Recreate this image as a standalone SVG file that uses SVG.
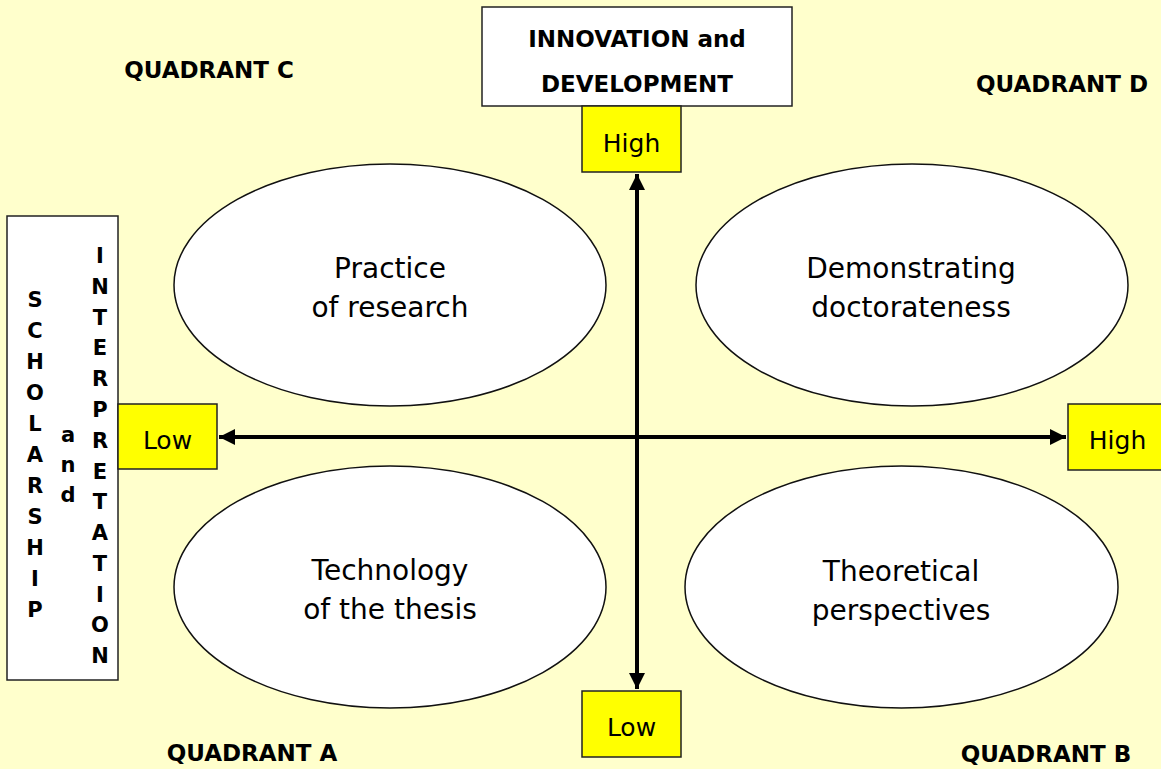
<svg xmlns="http://www.w3.org/2000/svg" width="1161" height="769" viewBox="0 0 1161 769">
<defs>
<style>
.bg{fill:#FFFFCC}
.wbox{fill:#FFFFFF;stroke:#222;stroke-width:1.5}
.ybox{fill:#FFFF00;stroke:#222;stroke-width:1.5}
.ell{fill:#FFFFFF;stroke:#111;stroke-width:1.5}
.t{font-family:"DejaVu Sans","Verdana",sans-serif;fill:#000;text-anchor:middle}
.big{font-size:28px}
.lbl{font-size:25px}
.bold{font-weight:bold;font-size:23px}
.vl{font-weight:bold;font-size:21px}
.axis{stroke:#000;stroke-width:4;fill:none}
</style>
<marker id="ah" viewBox="0 0 10 10" refX="10" refY="5" markerWidth="4" markerHeight="4" orient="auto-start-reverse" markerUnits="strokeWidth">
<path d="M0,0 L10,5 L0,10 z" fill="#000"/>
</marker>
</defs>
<rect class="bg" x="0" y="0" width="1161" height="769"/>

<g id="connectors">
<line class="axis" x1="637" y1="174" x2="637" y2="689" marker-start="url(#ah)" marker-end="url(#ah)"/>
<line class="axis" x1="219" y1="437" x2="1066" y2="437" marker-start="url(#ah)" marker-end="url(#ah)"/>
</g>

<g id="quadrant-labels">
<text class="t bold" x="209" y="78">QUADRANT C</text>
<text class="t bold" x="1062" y="92">QUADRANT D</text>
<text class="t bold" x="252" y="761">QUADRANT A</text>
<text class="t bold" x="1046" y="762">QUADRANT B</text>
</g>

<g id="innovation">
<rect class="wbox" x="482" y="7" width="310" height="99"/>
<text class="t bold" x="637" y="47">INNOVATION and</text>
<text class="t bold" x="637" y="92">DEVELOPMENT</text>
</g>

<g id="scholarship">
<rect class="wbox" x="7" y="216" width="111" height="464"/>
<text class="t vl" x="35" y="307">S</text>
<text class="t vl" x="35" y="338">C</text>
<text class="t vl" x="35" y="369">H</text>
<text class="t vl" x="35" y="400">O</text>
<text class="t vl" x="35" y="431">L</text>
<text class="t vl" x="35" y="462">A</text>
<text class="t vl" x="35" y="493">R</text>
<text class="t vl" x="35" y="524">S</text>
<text class="t vl" x="35" y="555">H</text>
<text class="t vl" x="35" y="586">I</text>
<text class="t vl" x="35" y="617">P</text>
<text class="t vl" x="68" y="442">a</text>
<text class="t vl" x="68" y="472">n</text>
<text class="t vl" x="68" y="502">d</text>
<text class="t vl" x="100" y="263">I</text>
<text class="t vl" x="100" y="294">N</text>
<text class="t vl" x="100" y="325">T</text>
<text class="t vl" x="100" y="355">E</text>
<text class="t vl" x="100" y="386">R</text>
<text class="t vl" x="100" y="417">P</text>
<text class="t vl" x="100" y="448">R</text>
<text class="t vl" x="100" y="479">E</text>
<text class="t vl" x="100" y="509">T</text>
<text class="t vl" x="100" y="540">A</text>
<text class="t vl" x="100" y="571">T</text>
<text class="t vl" x="100" y="602">I</text>
<text class="t vl" x="100" y="632">O</text>
<text class="t vl" x="100" y="663">N</text>
</g>

<g id="high-top">
<rect class="ybox" x="582" y="106" width="99" height="66"/>
<text class="t lbl" x="631.5" y="152">High</text>
</g>
<g id="low-bottom">
<rect class="ybox" x="582" y="691" width="99" height="66"/>
<text class="t lbl" x="631.5" y="736">Low</text>
</g>
<g id="low-left">
<rect class="ybox" x="118" y="404" width="99" height="65"/>
<text class="t lbl" x="167.5" y="449">Low</text>
</g>
<g id="high-right">
<rect class="ybox" x="1068" y="404" width="99" height="66"/>
<text class="t lbl" x="1117.5" y="449">High</text>
</g>

<g id="practice">
<ellipse class="ell" cx="390" cy="285" rx="216" ry="121"/>
<text class="t big" x="390" y="278">Practice</text>
<text class="t big" x="390" y="317">of research</text>
</g>
<g id="demonstrating">
<ellipse class="ell" cx="912" cy="285" rx="216" ry="121"/>
<text class="t big" x="911" y="278">Demonstrating</text>
<text class="t big" x="911" y="317">doctorateness</text>
</g>
<g id="technology">
<ellipse class="ell" cx="390" cy="587" rx="216" ry="121"/>
<text class="t big" x="390" y="580">Technology</text>
<text class="t big" x="390" y="619">of the thesis</text>
</g>
<g id="theoretical">
<ellipse class="ell" cx="901.5" cy="587" rx="216.5" ry="121"/>
<text class="t big" x="901" y="581">Theoretical</text>
<text class="t big" x="901" y="620">perspectives</text>
</g>
</svg>
